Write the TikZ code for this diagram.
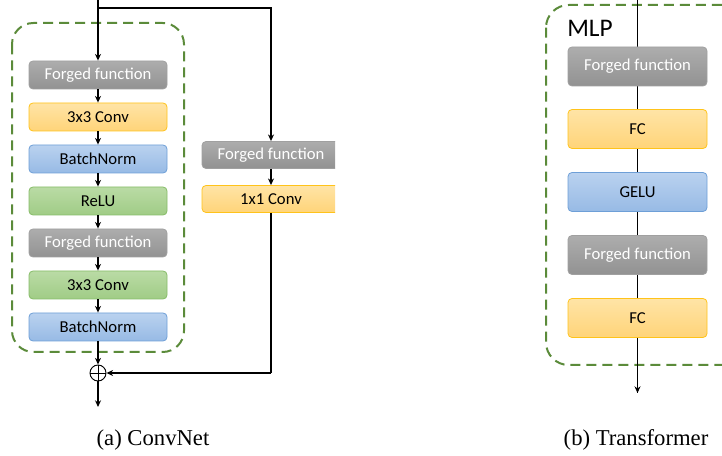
\documentclass[tikz,border=0pt]{standalone}
\usepackage{fontspec}
\setmainfont{Liberation Serif}
\newfontfamily\boxfont{Carlito}
\usetikzlibrary{arrows.meta}
\definecolor{dgreen}{HTML}{5B8B3A}
\definecolor{gtop}{HTML}{ADADAD}
\definecolor{gbot}{HTML}{929292}
\definecolor{gdraw}{HTML}{A0A0A0}
\definecolor{otop}{HTML}{FFE4A6}
\definecolor{obot}{HTML}{FFD479}
\definecolor{odraw}{HTML}{FFC31A}
\definecolor{btop}{HTML}{BAD2EF}
\definecolor{bbot}{HTML}{97BAE5}
\definecolor{bdraw}{HTML}{6E9FD7}
\definecolor{ntop}{HTML}{BADBA5}
\definecolor{nbot}{HTML}{A0CC86}
\definecolor{ndraw}{HTML}{86BC68}
\tikzset{
  blk/.style={rounded corners=3pt, minimum width=138*0.75pt, minimum height=28*0.75pt, inner sep=0pt, font=\boxfont\fontsize{12.5}{14}\selectfont, line width=0.6pt},
  tblk/.style={blk, minimum height=39*0.75pt, minimum width=139*0.75pt},
  grayb/.style={top color=gtop, bottom color=gbot, draw=gdraw, text=white},
  orangeb/.style={top color=otop, bottom color=obot, draw=odraw, text=black},
  blueb/.style={top color=btop, bottom color=bbot, draw=bdraw, text=black},
  greenb/.style={top color=ntop, bottom color=nbot, draw=ndraw, text=black},
  arr/.style={-{Stealth[length=5pt,width=4.5pt]}, line width=1.1pt},
  ln/.style={line width=1.1pt},
  dbox/.style={draw=dgreen, line width=1.5pt, dash pattern=on 7.5pt off 4.5pt, rounded corners=16pt},
  captext/.style={font=\fontsize{17}{20}\selectfont}
}
\begin{document}
\begin{tikzpicture}[x=0.75pt,y=-0.75pt]
\useasboundingbox (0,0) rectangle (722,456);
% ConvNet
\draw[dbox] (12,23) rectangle (184,352);
\node[blk,grayb]   (c1) at (98,75)  {Forged function};
\node[blk,orangeb] (c2) at (98,117) {3x3 Conv};
\node[blk,blueb]   (c3) at (98,159) {BatchNorm};
\node[blk,greenb]  (c4) at (98,201) {ReLU};
\node[blk,grayb]   (c5) at (98,243) {Forged function};
\node[blk,greenb]  (c6) at (98,285) {3x3 Conv};
\node[blk,blueb]   (c7) at (98,327) {BatchNorm};
\begin{scope}
\clip (0,0) rectangle (335,456);
\node[blk,grayb,minimum height=27*0.75pt]   (r1) at (271,155) {Forged function};
\node[blk,orangeb,minimum height=27*0.75pt] (r2) at (271,199) {1x1 Conv};
\end{scope}
\coordinate (top) at (98,0);
\coordinate (split) at (98,8);
\coordinate (bend) at (271,373);
\coordinate (out) at (98,407);
\node[circle, draw, line width=0.7pt, minimum size=16*0.75pt, inner sep=0pt] (plus) at (98,373) {};
\draw[line width=0.7pt] (plus.north) -- (plus.south) (plus.west) -- (plus.east);
\draw[arr] (top) -- (c1);
\draw[arr] (c1) -- (c2);
\draw[arr] (c2) -- (c3);
\draw[arr] (c3) -- (c4);
\draw[arr] (c4) -- (c5);
\draw[arr] (c5) -- (c6);
\draw[arr] (c6) -- (c7);
\draw[arr] (c7) -- (plus);
\draw[arr] (plus) -- (out);
\draw[arr] (split) -| (r1.north);
\draw[arr] (r1) -- (r2);
\draw[ln] (r2.south) -- (bend);
\draw[arr] (bend) -- (plus.east);
\node[captext] (capa) at (153,440) {(a) ConvNet};
% Transformer
\draw[dbox,rounded corners=17pt] (546,5) rectangle (780,365);
\node[anchor=west, font=\boxfont\fontsize{19}{22}\selectfont, inner sep=0pt] (mlp) at (567,28) {MLP};
\coordinate (ttop) at (637.5,0);
\coordinate (tout) at (637.5,393);
\draw[ln] (ttop) -- (tout);
\node[tblk,grayb]   (t1) at (637.5,66.5) {Forged function};
\node[tblk,orangeb] (t2) at (637.5,129) {FC};
\node[tblk,blueb]   (t3) at (637.5,192) {GELU};
\node[tblk,grayb]   (t4) at (637.5,255) {Forged function};
\node[tblk,orangeb] (t5) at (637.5,318) {FC};
\draw[arr] (t5) -- (tout);
\node[captext] (capb) at (636,440) {(b) Transformer};
\end{tikzpicture}
\end{document}
